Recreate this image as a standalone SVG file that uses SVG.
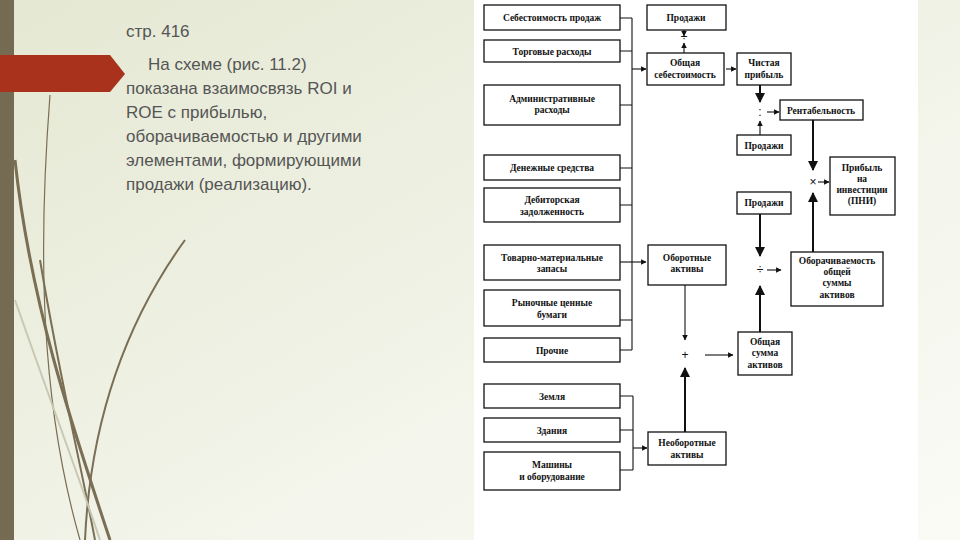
<svg xmlns="http://www.w3.org/2000/svg" width="960" height="540" viewBox="0 0 960 540">
<defs>
<linearGradient id="bg" x1="0" y1="0" x2="1" y2="1"><stop offset="0" stop-color="#e4e8d2"/><stop offset="0.6" stop-color="#f3f4ea"/><stop offset="1" stop-color="#fafbf5"/></linearGradient>
<marker id="ar" viewBox="0 0 10 10" refX="9" refY="5" markerWidth="5" markerHeight="5" orient="auto"><path d="M0,0 L10,5 L0,10 z" fill="#111"/></marker>
<style>
.b{fill:#fff;stroke:#111;stroke-width:1.3}
.t{font-family:"Liberation Serif",serif;font-size:9.5px;fill:#111;text-anchor:middle;font-weight:bold}
.c{stroke:#111;stroke-width:1.1;fill:none}
.ca{stroke:#111;stroke-width:1.1;fill:none;marker-end:url(#ar)}
.k{stroke:#111;stroke-width:2;fill:none;marker-end:url(#ar)}
.s{font-family:"Liberation Sans",sans-serif;font-size:12px;fill:#111;text-anchor:middle}
.p{font-family:"Liberation Sans",sans-serif;font-size:17px;fill:#555}
</style>
</defs>
<rect width="960" height="540" fill="url(#bg)"/>
<rect x="0" y="0" width="14" height="540" fill="#756b52"/>
<g fill="none" stroke="#7a6e55">
<path d="M15,160 C30,300 70,420 110,540" stroke-width="3"/>
<path d="M40,260 C60,380 80,460 95,540" stroke-width="2"/>
<path d="M50,95 C38,250 40,400 80,540" stroke-width="1.2"/>
<path d="M185,240 C120,330 90,430 85,540" stroke-width="2"/>
<path d="M15,300 C50,400 80,480 100,540" stroke="#c8c9b4" stroke-width="2"/>
</g>
<path d="M0,55 L110,55 L125,74 L110,92 L0,92 z" fill="#a8321c"/>
<text class="p" x="126" y="37" font-size="15">стр. 416</text>
<text class="p"><tspan x="148" y="70">На схеме (рис. 11.2)</tspan><tspan x="126" y="94">показана взаимосвязь ROI и</tspan><tspan x="126" y="118">ROE с прибылью,</tspan><tspan x="126" y="142">оборачиваемостью и другими</tspan><tspan x="126" y="166">элементами, формирующими</tspan><tspan x="126" y="190">продажи (реализацию).</tspan></text>
<rect x="474" y="0" width="444" height="540" fill="#fff"/>
<g id="connectors">
<path class="c" d="M620,18 H632 M620,51 H632 M620,105 H632 M620,168 H632 M620,205 H632 M620,320 H632 M620,350 H632 M632,18 V350"/>
<path class="ca" d="M632,69 H646"/>
<path class="ca" d="M620,262 H646"/>
<path class="c" d="M620,396 H633 M620,430 H633 M620,470 H633 M633,396 V470"/>
<path class="ca" d="M633,448 H647"/>
<path class="ca" d="M684,30 V36"/><path class="ca" d="M684,53 V43"/>
<path class="ca" d="M726,69 H736"/>
<path class="k" d="M760,85 V102"/>
<path class="ca" d="M767,112 H779"/>
<path class="ca" d="M760,135 V121"/>
<path class="k" d="M813,120 V170"/>
<path class="ca" d="M818,182 H829"/>
<path class="k" d="M813,252 V193"/>
<path class="k" d="M760,214 V256"/>
<path class="ca" d="M767,270 H781"/>
<path class="k" d="M760,332 V286"/>
<path class="ca" d="M685,285 V340"/>
<path class="ca" d="M705,355 H733"/>
<path class="k" d="M685,432 V368"/>
</g>
<text class="s" x="684" y="41">÷</text>
<text class="s" x="760" y="116">:</text>
<text class="s" x="813" y="186">×</text>
<text class="s" x="760" y="274">÷</text>
<text class="s" x="685" y="359">+</text>
<g id="n1"><rect class="b" x="484" y="5" width="136" height="25"/><text class="t" x="552" y="21">Себестоимость продаж</text></g>
<g id="n2"><rect class="b" x="484" y="40" width="136" height="22"/><text class="t" x="552" y="55">Торговые расходы</text></g>
<g id="n3"><rect class="b" x="484" y="85" width="136" height="40"/><text class="t" x="552" y="102">Административные</text><text class="t" x="552" y="113">расходы</text></g>
<g id="n4"><rect class="b" x="484" y="155" width="136" height="25"/><text class="t" x="552" y="171">Денежные средства</text></g>
<g id="n5"><rect class="b" x="484" y="188" width="136" height="34"/><text class="t" x="552" y="203">Дебиторская</text><text class="t" x="552" y="215">задолженность</text></g>
<g id="n6"><rect class="b" x="484" y="245" width="136" height="35"/><text class="t" x="552" y="261">Товарно-материальные</text><text class="t" x="552" y="272">запасы</text></g>
<g id="n7"><rect class="b" x="484" y="290" width="136" height="36"/><text class="t" x="552" y="306">Рыночные ценные</text><text class="t" x="552" y="318">бумаги</text></g>
<g id="n8"><rect class="b" x="484" y="338" width="136" height="24"/><text class="t" x="552" y="354">Прочие</text></g>
<g id="n9"><rect class="b" x="484" y="384" width="136" height="24"/><text class="t" x="552" y="400">Земля</text></g>
<g id="n10"><rect class="b" x="484" y="418" width="136" height="24"/><text class="t" x="552" y="434">Здания</text></g>
<g id="n11"><rect class="b" x="484" y="452" width="136" height="38"/><text class="t" x="552" y="468">Машины</text><text class="t" x="552" y="480">и оборудование</text></g>
<g id="n12"><rect class="b" x="647" y="5" width="79" height="25"/><text class="t" x="686" y="21">Продажи</text></g>
<g id="n13"><rect class="b" x="647" y="53" width="77" height="32"/><text class="t" x="685" y="66">Общая</text><text class="t" x="685" y="78">себестоимость</text></g>
<g id="n14"><rect class="b" x="737" y="53" width="54" height="32"/><text class="t" x="764" y="66">Чистая</text><text class="t" x="764" y="78">прибыль</text></g>
<g id="n15"><rect class="b" x="780" y="100" width="83" height="20"/><text class="t" x="821" y="114">Рентабельность</text></g>
<g id="n16"><rect class="b" x="737" y="135" width="54" height="20"/><text class="t" x="764" y="149">Продажи</text></g>
<g id="n17"><rect class="b" x="830" y="157" width="65" height="58"/><text class="t" x="862" y="171">Прибыль</text><text class="t" x="862" y="182">на</text><text class="t" x="862" y="193">инвестиции</text><text class="t" x="862" y="204">(ПНИ)</text></g>
<g id="n18"><rect class="b" x="737" y="192" width="54" height="22"/><text class="t" x="764" y="206">Продажи</text></g>
<g id="n19"><rect class="b" x="648" y="245" width="78" height="40"/><text class="t" x="687" y="261">Оборотные</text><text class="t" x="687" y="272">активы</text></g>
<g id="n20"><rect class="b" x="791" y="252" width="92" height="54"/><text class="t" x="837" y="264">Оборачиваемость</text><text class="t" x="837" y="275">общей</text><text class="t" x="837" y="286">суммы</text><text class="t" x="837" y="298">активов</text></g>
<g id="n21"><rect class="b" x="738" y="332" width="54" height="43"/><text class="t" x="765" y="345">Общая</text><text class="t" x="765" y="356">сумма</text><text class="t" x="765" y="368">активов</text></g>
<g id="n22"><rect class="b" x="648" y="432" width="78" height="33"/><text class="t" x="687" y="446">Необоротные</text><text class="t" x="687" y="458">активы</text></g>
</svg>
